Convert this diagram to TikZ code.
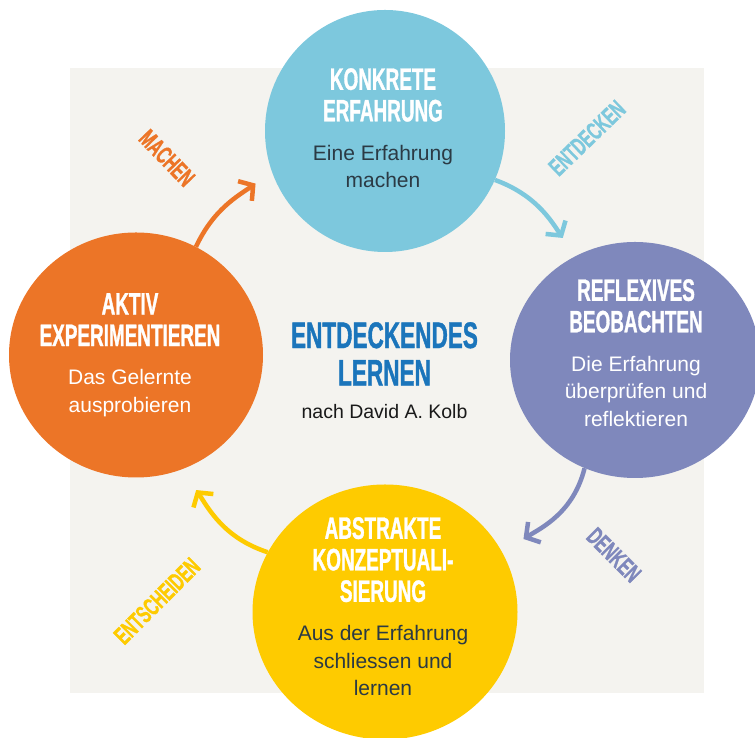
\documentclass[tikz,border=0pt]{standalone}
\usepackage{fontspec}
\usepackage{tikz}
\usetikzlibrary{shapes.geometric,positioning,arrows.meta}
\setmainfont{Liberation Sans}
\newfontfamily\kopffont[FakeStretch=0.61,FakeBold=1]{Liberation Sans}
\definecolor{kblau}{HTML}{7DC8DD}
\definecolor{klila}{HTML}{7F88BC}
\definecolor{korange}{HTML}{EC7527}
\definecolor{kgelb}{HTML}{FECB00}
\definecolor{kgrund}{HTML}{F4F3EF}
\definecolor{ktitel}{HTML}{1B75BB}
\definecolor{kdunkel}{HTML}{2B3A44}
\tikzstyle{blase} = [ellipse, inner sep=0pt]
\tikzstyle{kopf} = [text=white, align=center, inner sep=0pt, anchor=north, font=\kopffont\bfseries\fontsize{31}{31.5}\selectfont]
\tikzstyle{inhalt} = [align=center, inner sep=0pt, font=\fontsize{21}{27.5}\selectfont]
\tikzstyle{stichwort} = [inner sep=0pt, font=\kopffont\bfseries\fontsize{25}{25}\selectfont]
\tikzstyle{pfeil} = [line width=4.5pt, -{Straight Barb[length=10pt,width=24pt]}]

\begin{document}
\begin{tikzpicture}[x=1pt,y=1pt]
		\useasboundingbox (0,0) rectangle (755,738);
		\fill[kgrund] (70,45) rectangle (704,670);
		% die vier Phasen
		\node[blase, fill=kblau, minimum width=240pt, minimum height=242pt](konkret) at (385,607){};
		\node[blase, fill=klila, minimum width=250pt, minimum height=236pt](reflexiv) at (635,378){};
		\node[blase, fill=kgelb, minimum width=265pt, minimum height=255pt](abstrakt) at (385,126){};
		\node[blase, fill=korange, minimum width=254pt, minimum height=245pt](aktiv) at (136,383){};
		\node[kopf](konkret-kopf) at (383,670){KONKRETE\\ERFAHRUNG};
		\node[inhalt, text=kdunkel, below=23pt of konkret-kopf](konkret-text){Eine Erfahrung\\machen};
		\node[kopf](reflexiv-kopf) at (636,459){REFLEXIVES\\BEOBACHTEN};
		\node[inhalt, text=white, below=23pt of reflexiv-kopf](reflexiv-text){Die Erfahrung\\überprüfen und\\reflektieren};
		\node[kopf](abstrakt-kopf) at (383,221){ABSTRAKTE\\KONZEPTUALI-\\SIERUNG};
		\node[inhalt, text=kdunkel, below=23pt of abstrakt-kopf](abstrakt-text){Aus der Erfahrung\\schliessen und\\lernen};
		\node[kopf](aktiv-kopf) at (130,445){AKTIV\\EXPERIMENTIEREN};
		\node[inhalt, text=white, below=23pt of aktiv-kopf](aktiv-text){Das Gelernte\\ausprobieren};
		% Mitte
		\node[kopf, text=ktitel, font=\kopffont\bfseries\fontsize{37}{37.5}\selectfont](titel) at (384.5,416){ENTDECKENDES\\LERNEN};
		\node[inhalt, text=black!90, font=\fontsize{19.5}{24}\selectfont, below=18pt of titel](kolb){nach David A. Kolb};
		% Kreislauf
		\draw[pfeil, draw=kblau, shorten >=22pt] (konkret.-24) to[out=-20, in=124] (reflexiv.120);
		\draw[pfeil, draw=klila, shorten >=25pt] (reflexiv.245) to[out=-104, in=32] (abstrakt.27);
		\draw[pfeil, draw=kgelb, shorten >=25pt] (abstrakt.153) to[out=162, in=-56] (aktiv.-68);
		\draw[pfeil, draw=korange, shorten >=20pt] (aktiv.61) to[out=65, in=215] (konkret.200);
		\node[stichwort, text=kblau, rotate=44](entdecken) at (587,600){ENTDECKEN};
		\node[stichwort, text=klila, rotate=-45](denken) at (614,183){DENKEN};
		\node[stichwort, text=kgelb, rotate=45](entscheiden) at (157,137){ENTSCHEIDEN};
		\node[stichwort, text=korange, rotate=-46](machen) at (167,580){MACHEN};
	\end{tikzpicture}
\end{document}
